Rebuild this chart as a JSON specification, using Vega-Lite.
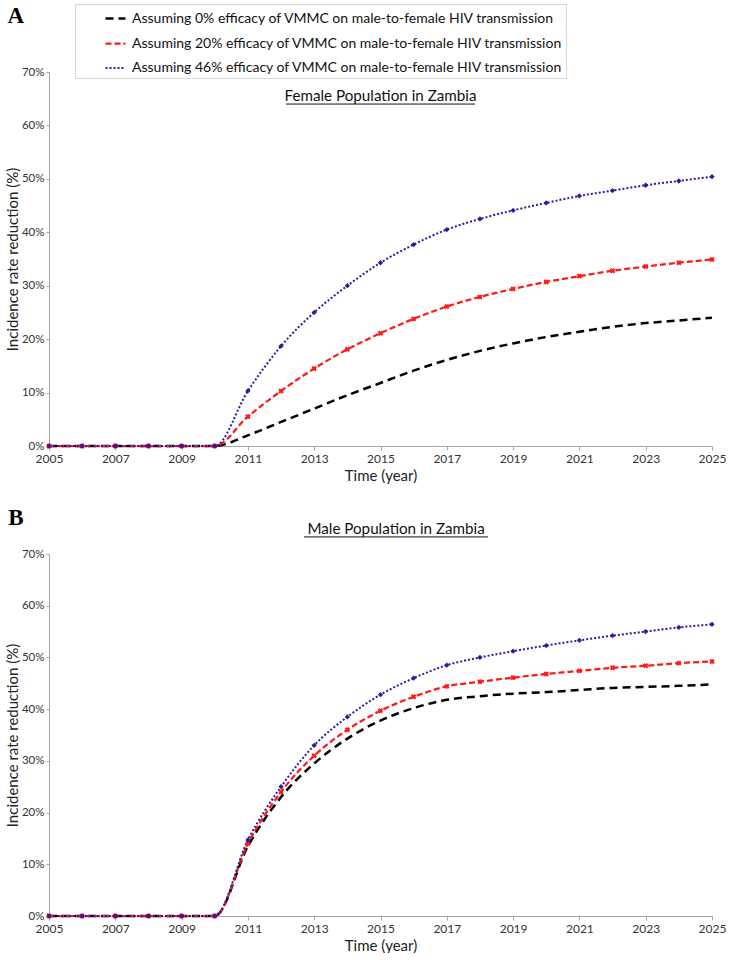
{
  "$schema": "https://vega.github.io/schema/vega-lite/v6.json",
  "padding": {"left": 5, "top": 3, "right": 10, "bottom": 0},
  "background": "white",
  "config": {
    "font": "Lato",
    "view": {"stroke": null},
    "axis": {"labelFont": "Lato", "labelFontSize": 12, "labelColor": "#333", "titleFont": "Lato", "titleFontSize": 15, "titleFontWeight": "normal", "titleColor": "#222", "domainColor": "#a6a6a6", "tickColor": "#a6a6a6", "tickSize": 4, "grid": false, "labelFlush": false},
    "axisY": {"labelFontSize": 11.5, "tickSize": 3, "labelPadding": 2, "titlePadding": 1}
  },
  "datasets": {
    "d": [
      {"p":"A","s":"0%","x":2005,"v":0},{"p":"A","s":"0%","x":2006,"v":0},{"p":"A","s":"0%","x":2007,"v":0},{"p":"A","s":"0%","x":2008,"v":0},{"p":"A","s":"0%","x":2009,"v":0},{"p":"A","s":"0%","x":2010,"v":0},{"p":"A","s":"0%","x":2011,"v":2.0},{"p":"A","s":"0%","x":2012,"v":4.5},{"p":"A","s":"0%","x":2013,"v":7.0},{"p":"A","s":"0%","x":2014,"v":9.5},{"p":"A","s":"0%","x":2015,"v":11.8},{"p":"A","s":"0%","x":2016,"v":14.1},{"p":"A","s":"0%","x":2017,"v":16.1},{"p":"A","s":"0%","x":2018,"v":17.8},{"p":"A","s":"0%","x":2019,"v":19.2},{"p":"A","s":"0%","x":2020,"v":20.4},{"p":"A","s":"0%","x":2021,"v":21.4},{"p":"A","s":"0%","x":2022,"v":22.3},{"p":"A","s":"0%","x":2023,"v":23.0},{"p":"A","s":"0%","x":2024,"v":23.5},{"p":"A","s":"0%","x":2025,"v":24.0},
      {"p":"A","s":"20%","x":2005,"v":0},{"p":"A","s":"20%","x":2006,"v":0},{"p":"A","s":"20%","x":2007,"v":0},{"p":"A","s":"20%","x":2008,"v":0},{"p":"A","s":"20%","x":2009,"v":0},{"p":"A","s":"20%","x":2010,"v":0},{"p":"A","s":"20%","x":2011,"v":5.5},{"p":"A","s":"20%","x":2012,"v":10.3},{"p":"A","s":"20%","x":2013,"v":14.5},{"p":"A","s":"20%","x":2014,"v":18.1},{"p":"A","s":"20%","x":2015,"v":21.1},{"p":"A","s":"20%","x":2016,"v":23.8},{"p":"A","s":"20%","x":2017,"v":26.1},{"p":"A","s":"20%","x":2018,"v":27.9},{"p":"A","s":"20%","x":2019,"v":29.4},{"p":"A","s":"20%","x":2020,"v":30.7},{"p":"A","s":"20%","x":2021,"v":31.8},{"p":"A","s":"20%","x":2022,"v":32.8},{"p":"A","s":"20%","x":2023,"v":33.6},{"p":"A","s":"20%","x":2024,"v":34.3},{"p":"A","s":"20%","x":2025,"v":34.9},
      {"p":"A","s":"46%","x":2005,"v":0},{"p":"A","s":"46%","x":2006,"v":0},{"p":"A","s":"46%","x":2007,"v":0},{"p":"A","s":"46%","x":2008,"v":0},{"p":"A","s":"46%","x":2009,"v":0},{"p":"A","s":"46%","x":2010,"v":0},{"p":"A","s":"46%","x":2011,"v":10.3},{"p":"A","s":"46%","x":2012,"v":18.7},{"p":"A","s":"46%","x":2013,"v":25.0},{"p":"A","s":"46%","x":2014,"v":30.0},{"p":"A","s":"46%","x":2015,"v":34.3},{"p":"A","s":"46%","x":2016,"v":37.7},{"p":"A","s":"46%","x":2017,"v":40.5},{"p":"A","s":"46%","x":2018,"v":42.5},{"p":"A","s":"46%","x":2019,"v":44.1},{"p":"A","s":"46%","x":2020,"v":45.5},{"p":"A","s":"46%","x":2021,"v":46.8},{"p":"A","s":"46%","x":2022,"v":47.8},{"p":"A","s":"46%","x":2023,"v":48.8},{"p":"A","s":"46%","x":2024,"v":49.6},{"p":"A","s":"46%","x":2025,"v":50.4},
      {"p":"B","s":"0%","x":2005,"v":0},{"p":"B","s":"0%","x":2006,"v":0},{"p":"B","s":"0%","x":2007,"v":0},{"p":"B","s":"0%","x":2008,"v":0},{"p":"B","s":"0%","x":2009,"v":0},{"p":"B","s":"0%","x":2010,"v":0},{"p":"B","s":"0%","x":2011,"v":13.5},{"p":"B","s":"0%","x":2012,"v":23.0},{"p":"B","s":"0%","x":2013,"v":29.5},{"p":"B","s":"0%","x":2014,"v":34.3},{"p":"B","s":"0%","x":2015,"v":37.8},{"p":"B","s":"0%","x":2016,"v":40.2},{"p":"B","s":"0%","x":2017,"v":41.8},{"p":"B","s":"0%","x":2018,"v":42.5},{"p":"B","s":"0%","x":2019,"v":43.0},{"p":"B","s":"0%","x":2020,"v":43.3},{"p":"B","s":"0%","x":2021,"v":43.7},{"p":"B","s":"0%","x":2022,"v":44.1},{"p":"B","s":"0%","x":2023,"v":44.3},{"p":"B","s":"0%","x":2024,"v":44.5},{"p":"B","s":"0%","x":2025,"v":44.8},
      {"p":"B","s":"20%","x":2005,"v":0},{"p":"B","s":"20%","x":2006,"v":0},{"p":"B","s":"20%","x":2007,"v":0},{"p":"B","s":"20%","x":2008,"v":0},{"p":"B","s":"20%","x":2009,"v":0},{"p":"B","s":"20%","x":2010,"v":0},{"p":"B","s":"20%","x":2011,"v":14.0},{"p":"B","s":"20%","x":2012,"v":24.0},{"p":"B","s":"20%","x":2013,"v":31.0},{"p":"B","s":"20%","x":2014,"v":36.0},{"p":"B","s":"20%","x":2015,"v":39.7},{"p":"B","s":"20%","x":2016,"v":42.4},{"p":"B","s":"20%","x":2017,"v":44.4},{"p":"B","s":"20%","x":2018,"v":45.3},{"p":"B","s":"20%","x":2019,"v":46.1},{"p":"B","s":"20%","x":2020,"v":46.8},{"p":"B","s":"20%","x":2021,"v":47.4},{"p":"B","s":"20%","x":2022,"v":48.0},{"p":"B","s":"20%","x":2023,"v":48.4},{"p":"B","s":"20%","x":2024,"v":48.9},{"p":"B","s":"20%","x":2025,"v":49.2},
      {"p":"B","s":"46%","x":2005,"v":0},{"p":"B","s":"46%","x":2006,"v":0},{"p":"B","s":"46%","x":2007,"v":0},{"p":"B","s":"46%","x":2008,"v":0},{"p":"B","s":"46%","x":2009,"v":0},{"p":"B","s":"46%","x":2010,"v":0},{"p":"B","s":"46%","x":2011,"v":14.7},{"p":"B","s":"46%","x":2012,"v":25.0},{"p":"B","s":"46%","x":2013,"v":33.0},{"p":"B","s":"46%","x":2014,"v":38.5},{"p":"B","s":"46%","x":2015,"v":42.8},{"p":"B","s":"46%","x":2016,"v":46.0},{"p":"B","s":"46%","x":2017,"v":48.5},{"p":"B","s":"46%","x":2018,"v":50.0},{"p":"B","s":"46%","x":2019,"v":51.2},{"p":"B","s":"46%","x":2020,"v":52.3},{"p":"B","s":"46%","x":2021,"v":53.3},{"p":"B","s":"46%","x":2022,"v":54.2},{"p":"B","s":"46%","x":2023,"v":55.0},{"p":"B","s":"46%","x":2024,"v":55.8},{"p":"B","s":"46%","x":2025,"v":56.4}
    ]
  },
  "spacing": 23,
  "resolve": {"legend": {"color": "independent", "strokeDash": "independent", "strokeWidth": "independent"}},
  "vconcat": [
    {
      "width": 663,
      "height": 374,
      "layer": [
        {
          "data": {"name": "d"},
          "transform": [{"filter": "datum.p === 'A'"}],
          "mark": {"type": "line", "interpolate": "monotone"},
          "encoding": {
            "x": {"field": "x", "type": "quantitative", "scale": {"domain": [2005, 2025], "nice": false}, "axis": {"values": [2005,2007,2009,2011,2013,2015,2017,2019,2021,2023,2025], "format": "d", "title": "Time (year)", "labelPadding": 3, "titlePadding": 4}},
            "y": {"field": "v", "type": "quantitative", "scale": {"domain": [0, 70], "nice": false}, "axis": {"values": [0,10,20,30,40,50,60,70], "labelExpr": "datum.value + '%'", "title": "Incidence rate reduction (%)"}},
            "color": {"field": "s", "type": "nominal", "scale": {"domain": ["0%", "20%", "46%"], "range": ["#000000", "#ff1a1a", "#2d1b9c"]},
              "legend": {"orient": "none", "legendX": 26, "legendY": -68, "title": null, "symbolType": "stroke", "symbolSize": 400, "symbolOffset": 26, "padding": 3, "rowPadding": 6, "strokeColor": "#d6d6d6", "fillColor": "#ffffff", "labelFontSize": 14, "labelFont": "Lato", "labelColor": "#111", "labelLimit": 700, "labelOffset": 5, "labelExpr": "'Assuming ' + datum.label + ' efficacy of VMMC on male-to-female HIV transmission\u00a0\u00a0\u00a0\u00a0\u00a0\u00a0\u00a0\u00a0\u00a0\u00a0\u00a0\u00a0\u00a0\u00a0\u00a0'"}},
            "strokeDash": {"field": "s", "type": "nominal", "scale": {"domain": ["0%", "20%", "46%"], "range": [[8, 5], [6, 3], [2, 2]]},
              "legend": {"orient": "none", "legendX": 26, "legendY": -68, "title": null, "symbolType": "stroke", "symbolSize": 400, "symbolOffset": 26, "padding": 3, "rowPadding": 6, "strokeColor": "#d6d6d6", "fillColor": "#ffffff", "labelFontSize": 14, "labelFont": "Lato", "labelColor": "#111", "labelLimit": 700, "labelOffset": 5, "labelExpr": "'Assuming ' + datum.label + ' efficacy of VMMC on male-to-female HIV transmission\u00a0\u00a0\u00a0\u00a0\u00a0\u00a0\u00a0\u00a0\u00a0\u00a0\u00a0\u00a0\u00a0\u00a0\u00a0'"}},
            "strokeWidth": {"field": "s", "type": "nominal", "scale": {"domain": ["0%", "20%", "46%"], "range": [2.5, 2, 1.6]},
              "legend": {"orient": "none", "legendX": 26, "legendY": -68, "title": null, "symbolType": "stroke", "symbolSize": 400, "symbolOffset": 26, "padding": 3, "rowPadding": 6, "strokeColor": "#d6d6d6", "fillColor": "#ffffff", "labelFontSize": 14, "labelFont": "Lato", "labelColor": "#111", "labelLimit": 700, "labelOffset": 5, "labelExpr": "'Assuming ' + datum.label + ' efficacy of VMMC on male-to-female HIV transmission\u00a0\u00a0\u00a0\u00a0\u00a0\u00a0\u00a0\u00a0\u00a0\u00a0\u00a0\u00a0\u00a0\u00a0\u00a0'"}}
          }
        },
        {
          "data": {"name": "d"},
          "transform": [{"filter": "datum.p === 'A' && datum.s === '20%'"}],
          "mark": {"type": "point", "shape": "cross", "angle": 45, "filled": true, "color": "#ff1a1a", "size": 30, "opacity": 1},
          "encoding": {"x": {"field": "x", "type": "quantitative"}, "y": {"field": "v", "type": "quantitative"}}
        },
        {
          "data": {"name": "d"},
          "transform": [{"filter": "datum.p === 'A' && datum.s === '46%'"}],
          "mark": {"type": "point", "shape": "diamond", "filled": true, "color": "#2d1b9c", "size": 28, "opacity": 1},
          "encoding": {"x": {"field": "x", "type": "quantitative"}, "y": {"field": "v", "type": "quantitative"}}
        },
        {
          "data": {"values": [{}]},
          "mark": {"type": "text", "text": "A", "fontSize": 23, "font": "Liberation Sans Narrow", "fontWeight": "bold", "baseline": "middle", "align": "center", "color": "#000"},
          "encoding": {"x": {"datum": 2004.0, "type": "quantitative"}, "y": {"datum": 80.5, "type": "quantitative"}}
        },
        {
          "data": {"values": [{}]},
          "mark": {"type": "text", "text": "Female Population in Zambia", "fontSize": 15.2, "font": "Lato", "baseline": "alphabetic", "align": "center", "color": "#111"},
          "encoding": {"x": {"datum": 2015, "type": "quantitative"}, "y": {"datum": 64.6, "type": "quantitative"}}
        },
        {
          "data": {"values": [{}]},
          "mark": {"type": "rule", "color": "#111", "strokeWidth": 1},
          "encoding": {"x": {"datum": 2012.15, "type": "quantitative"}, "x2": {"datum": 2017.85}, "y": {"datum": 64.0, "type": "quantitative"}}
        }
      ]
    },
    {
      "width": 663,
      "height": 362,
      "layer": [
        {
          "data": {"name": "d"},
          "transform": [{"filter": "datum.p === 'B'"}],
          "mark": {"type": "line", "interpolate": "monotone"},
          "encoding": {
            "x": {"field": "x", "type": "quantitative", "scale": {"domain": [2005, 2025], "nice": false}, "axis": {"values": [2005,2007,2009,2011,2013,2015,2017,2019,2021,2023,2025], "format": "d", "title": "Time (year)", "labelPadding": 3, "titlePadding": 4}},
            "y": {"field": "v", "type": "quantitative", "scale": {"domain": [0, 70], "nice": false}, "axis": {"values": [0,10,20,30,40,50,60,70], "labelExpr": "datum.value + '%'", "title": "Incidence rate reduction (%)"}},
            "color": {"field": "s", "type": "nominal", "scale": {"domain": ["0%", "20%", "46%"], "range": ["#000000", "#ff1a1a", "#2d1b9c"]}, "legend": null},
            "strokeDash": {"field": "s", "type": "nominal", "scale": {"domain": ["0%", "20%", "46%"], "range": [[8, 5], [6, 3], [2, 2]]}, "legend": null},
            "strokeWidth": {"field": "s", "type": "nominal", "scale": {"domain": ["0%", "20%", "46%"], "range": [2.5, 2, 1.6]}, "legend": null}
          }
        },
        {
          "data": {"name": "d"},
          "transform": [{"filter": "datum.p === 'B' && datum.s === '20%'"}],
          "mark": {"type": "point", "shape": "cross", "angle": 45, "filled": true, "color": "#ff1a1a", "size": 30, "opacity": 1},
          "encoding": {"x": {"field": "x", "type": "quantitative"}, "y": {"field": "v", "type": "quantitative"}}
        },
        {
          "data": {"name": "d"},
          "transform": [{"filter": "datum.p === 'B' && datum.s === '46%'"}],
          "mark": {"type": "point", "shape": "diamond", "filled": true, "color": "#2d1b9c", "size": 28, "opacity": 1},
          "encoding": {"x": {"field": "x", "type": "quantitative"}, "y": {"field": "v", "type": "quantitative"}}
        },
        {
          "data": {"values": [{}]},
          "mark": {"type": "text", "text": "B", "fontSize": 23, "font": "Liberation Sans Narrow", "fontWeight": "bold", "baseline": "middle", "align": "center", "color": "#000"},
          "encoding": {"x": {"datum": 2004.0, "type": "quantitative"}, "y": {"datum": 77.0, "type": "quantitative"}}
        },
        {
          "data": {"values": [{}]},
          "mark": {"type": "text", "text": "Male Population in Zambia", "fontSize": 15.2, "font": "Lato", "baseline": "alphabetic", "align": "center", "color": "#111"},
          "encoding": {"x": {"datum": 2015.47, "type": "quantitative"}, "y": {"datum": 73.9, "type": "quantitative"}}
        },
        {
          "data": {"values": [{}]},
          "mark": {"type": "rule", "color": "#111", "strokeWidth": 1},
          "encoding": {"x": {"datum": 2012.69, "type": "quantitative"}, "x2": {"datum": 2018.24}, "y": {"datum": 73.3, "type": "quantitative"}}
        }
      ]
    }
  ]
}
